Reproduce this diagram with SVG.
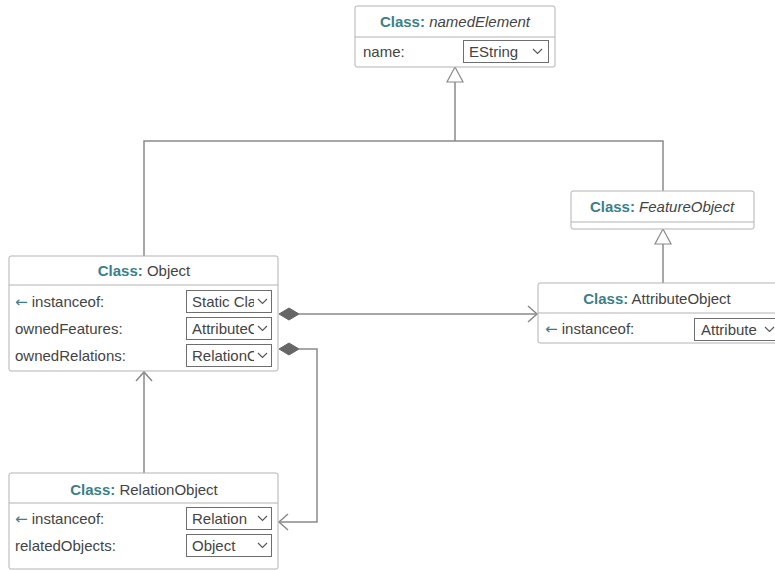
<svg xmlns="http://www.w3.org/2000/svg" width="775" height="570" viewBox="0 0 775 570">
<style>
.box{fill:#fff;stroke:#b3b3b3;stroke-width:1}
.div{stroke:#b3b3b3;stroke-width:1}
.sel{fill:#fff;stroke:#6e6e6e;stroke-width:1}
.t{font-family:"Liberation Sans",Arial,sans-serif;font-size:15px;fill:#444}
.k{font-weight:bold;fill:#3b7f89}
.i{font-style:italic}
.arr{fill:#3b7f89;font-family:"DejaVu Sans",sans-serif}
.chev{fill:none;stroke:#555;stroke-width:1.1}
.ln{fill:none;stroke:#8a8a8a;stroke-width:1.5}
.tri{fill:#fff;stroke:#8a8a8a;stroke-width:1.2}
.dia{fill:#666;stroke:#666}
</style>
<defs>
<clipPath id="c1"><rect x="187" y="290" width="67" height="22"/></clipPath>
<clipPath id="c2"><rect x="187" y="317" width="67" height="22"/></clipPath>
<clipPath id="c3"><rect x="187" y="344" width="67" height="22"/></clipPath>
</defs>
<g id="connectors">
<path class="ln" d="M144,256 V141 H663 V191"/>
<path class="ln" d="M455,141 V82"/>
<polygon class="tri" points="455,67 447,82 463,82"/>
<path class="ln" d="M663,283 V244"/>
<polygon class="tri" points="663,229 655,244 671,244"/>
<path class="ln" d="M299,314 H537"/>
<polygon class="dia" points="279,314 289,308 299,314 289,320"/>
<path class="ln" d="M528,306 L537,314 L528,322"/>
<path class="ln" d="M299,349 H317 V522 H279"/>
<polygon class="dia" points="279,349 289,343 299,349 289,355"/>
<path class="ln" d="M288,514 L279,522 L288,530"/>
<path class="ln" d="M144,473 V372"/>
<path class="ln" d="M136,381 L144,372 L152,381"/>
</g>
<g id="namedElement">
<rect class="box" x="355" y="6" width="200" height="61" rx="2"/>
<line class="div" x1="355" y1="37" x2="555" y2="37"/>
<text class="t" x="455" y="27" text-anchor="middle"><tspan class="k">Class:</tspan> <tspan class="i">namedElement</tspan></text>
<text class="t" x="363" y="57">name:</text>
<rect class="sel" x="463.5" y="40.5" width="85" height="22"/>
<text class="t" x="469" y="57">EString</text>
<path class="chev" d="M533,49 L537.5,53.5 L542,49"/>
</g>
<g id="FeatureObject">
<rect class="box" x="571" y="191" width="183" height="38" rx="2"/>
<line class="div" x1="571" y1="222" x2="754" y2="222"/>
<text class="t" x="662" y="212" text-anchor="middle"><tspan class="k">Class:</tspan> <tspan class="i">FeatureObject</tspan></text>
</g>
<g id="Object">
<rect class="box" x="9" y="256" width="269" height="115" rx="2"/>
<line class="div" x1="9" y1="285" x2="278" y2="285"/>
<text class="t" x="144" y="276" text-anchor="middle"><tspan class="k">Class:</tspan> Object</text>
<text class="t" x="15" y="307"><tspan class="arr">←</tspan> instanceof:</text>
<text class="t" x="15" y="334">ownedFeatures:</text>
<text class="t" x="15" y="361">ownedRelations:</text>
<rect class="sel" x="186.5" y="290.5" width="85" height="22"/>
<text class="t" x="192" y="307" clip-path="url(#c1)">Static Class</text>
<path class="chev" d="M258,299 L262.5,303.5 L267,299"/>
<rect class="sel" x="186.5" y="317.5" width="85" height="22"/>
<text class="t" x="192" y="334" clip-path="url(#c2)">AttributeObject</text>
<path class="chev" d="M258,326 L262.5,330.5 L267,326"/>
<rect class="sel" x="186.5" y="344.5" width="85" height="22"/>
<text class="t" x="192" y="361" clip-path="url(#c3)">RelationObject</text>
<path class="chev" d="M258,353 L262.5,357.5 L267,353"/>
</g>
<g id="AttributeObject">
<rect class="box" x="538" y="283" width="260" height="60" rx="2"/>
<line class="div" x1="538" y1="313" x2="798" y2="313"/>
<text class="t" x="657" y="304" text-anchor="middle"><tspan class="k">Class:</tspan> AttributeObject</text>
<text class="t" x="545" y="334"><tspan class="arr">←</tspan> instanceof:</text>
<rect class="sel" x="694.5" y="318.5" width="85" height="22"/>
<text class="t" x="701" y="335">Attribute</text>
<path class="chev" d="M765,327 L769.5,331.5 L774,327"/>
</g>
<g id="RelationObject">
<rect class="box" x="9" y="473" width="269" height="96" rx="2"/>
<line class="div" x1="9" y1="503" x2="278" y2="503"/>
<text class="t" x="144" y="495" text-anchor="middle"><tspan class="k">Class:</tspan> RelationObject</text>
<text class="t" x="15" y="524"><tspan class="arr">←</tspan> instanceof:</text>
<text class="t" x="15" y="551">relatedObjects:</text>
<rect class="sel" x="186.5" y="507.5" width="85" height="22"/>
<text class="t" x="192" y="524">Relation</text>
<path class="chev" d="M258,516 L262.5,520.5 L267,516"/>
<rect class="sel" x="186.5" y="534.5" width="85" height="22"/>
<text class="t" x="192" y="551">Object</text>
<path class="chev" d="M258,543 L262.5,547.5 L267,543"/>
</g>
</svg>
